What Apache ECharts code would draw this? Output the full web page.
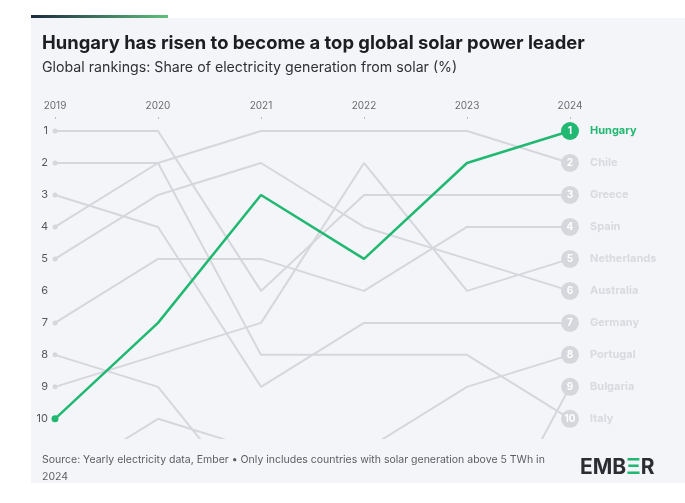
<!DOCTYPE html>
<html>
<head>
<meta charset="utf-8">
<script src="https://cdn.jsdelivr.net/npm/echarts@6/dist/echarts.min.js"></script>
<style>
	html,body{margin:0;padding:0;background:#fff;}
	#chart{width:685px;height:503px;}
</style>
</head>
<body>
<div id="chart"></div>
<script>
// rankings (1 = highest share), ranks above 10 run below the plot
var years = ['2019', '2020', '2021', '2022', '2023', '2024'];
var rankTicks = [1, 2, 3, 4, 5, 6, 7, 8, 9, 10];
var countries = ['Chile', 'Greece', 'Spain', 'Netherlands', 'Australia', 'Germany', 'Portugal', 'Bulgaria', 'Italy', 'Hungary'];
var chile = [4, 2, 1, 1, 1, 2];
var greece = [1, 1, 6, 3, 3, 3];
var spain = [7, 5, 5, 6, 4, 4];
var netherlands = [9, 8, 7, 2, 6, 5];
var australia = [5, 3, 2, 4, 5, 6];
var germany = [3, 4, 9, 7, 7, 7];
var portugal = [12, 10, 11, 11, 9, 8];
var bulgaria = [8, 9, 13, 14, 15, 9];
var italy = [2, 2, 8, 8, 8, 10];
var hungary = [10, 7, 3, 5, 2, 1];

var rankData = {
	'Chile': chile,
	'Greece': greece,
	'Spain': spain,
	'Netherlands': netherlands,
	'Australia': australia,
	'Germany': germany,
	'Portugal': portugal,
	'Bulgaria': bulgaria,
	'Italy': italy,
	'Hungary': hungary
};

var GREEN = '#21b872';
var GREY = '#d5d7dd';
var FONT = 'Inter, "Noto Sans", sans-serif';

function buildData(name, ranks, labelColor) {
	var out = [];
	for (var i = 0; i < ranks.length; i++) {
		var item = { value: ranks[i], symbol: 'none' };
		if (i == 0) {
			item.symbol = 'circle';
			item.symbolSize = name == 'Hungary' ? 7 : 5;
		}
		if (i == ranks.length - 1) {
			item.symbol = 'circle';
			item.symbolSize = 18;
			item.label = {
				show: true,
				position: [0, 9],
				align: 'left',
				verticalAlign: 'middle',
				formatter: '{n|' + ranks[i] + '}{c|' + name + '}',
				rich: {
					n: { width: 18, align: 'center', color: '#fff', fontWeight: 'bold', fontSize: 10, fontFamily: FONT },
					c: { padding: [0, 0, 0, 11], color: labelColor, fontWeight: 'bold', fontSize: 11, fontFamily: FONT }
				}
			};
		}
		out.push(item);
	}
	return out;
}

var series = [];
countries.forEach(function(name) {
	var isHu = name == 'Hungary';
	var color = isHu ? GREEN : GREY;
	series.push({
		name: name,
		type: 'line',
		data: buildData(name, rankData[name], isHu ? GREEN : '#d8dadf'),
		showSymbol: true,
		clip: true,
		z: isHu ? 5 : 2,
		lineStyle: { color: color, width: isHu ? 2.5 : 2 },
		itemStyle: { color: color },
		emphasis: { disabled: true },
		animation: false
	});
});

var chart = echarts.init(document.getElementById('chart'));
chart.setOption({
	backgroundColor: '#fff',
	textStyle: { fontFamily: FONT },
	graphic: [
		{ type: 'rect', z: -10, shape: { x: 31, y: 18, width: 654, height: 465 }, style: { fill: '#f4f5f9' } },
		{ type: 'rect', z: -9, shape: { x: 31, y: 15, width: 137, height: 3 },
			style: { fill: new echarts.graphic.LinearGradient(0, 0, 1, 0, [
				{ offset: 0, color: '#1c2a40' }, { offset: 1, color: '#5ec07c' }
			]) } },
		{ type: 'text', left: 42, top: 451, style: {
			text: 'Source: Yearly electricity data, Ember \u2022 Only includes countries with solar generation above 5 TWh in\n2024',
			fill: '#5b5d63', font: '10.5px ' + FONT, lineHeight: 17
		} },
		{ type: 'text', left: 580, top: 457, style: {
			text: '{d|EMB}{g|\u039E}{d|R}',
			rich: {
				d: { fill: '#2b2d33', font: 'bold 21px ' + FONT },
				g: { fill: GREEN, font: 'bold 21px ' + FONT }
			}
		} }
	],
	title: [{
		text: 'Hungary has risen to become a top global solar power leader',
		left: 42, top: 32, padding: 0,
		textStyle: { fontSize: 18.4, fontWeight: 'bold', color: '#1d1e22', lineHeight: 22, fontFamily: FONT }
	}, {
		text: 'Global rankings: Share of electricity generation from solar (%)',
		left: 42, top: 59, padding: 0,
		textStyle: { fontSize: 14.2, fontWeight: 'normal', color: '#2e3035', lineHeight: 18, fontFamily: FONT }
	}],
	grid: { left: 55, right: 115, top: 131, height: 307 },
	xAxis: {
		type: 'category',
		data: years,
		position: 'top',
		offset: 12,
		boundaryGap: false,
		axisLine: { show: false },
		axisTick: { show: true, length: 2, lineStyle: { color: '#b9bbc2' } },
		axisLabel: { margin: 8, color: '#6a6c72', fontSize: 10 },
		splitLine: { show: false }
	},
	yAxis: {
		type: 'value',
		inverse: true,
		min: 1,
		max: 10.6,
		interval: 1,
		axisLine: { show: false },
		axisTick: { show: false },
		splitLine: { show: false },
		axisLabel: {
			margin: 7, color: '#55575d', fontSize: 11, showMaxLabel: false,
			formatter: function(v) {
				return rankTicks.indexOf(v) >= 0 ? String(v) : '';
			}
		}
	},
	series: series
});
</script>
</body>
</html>
